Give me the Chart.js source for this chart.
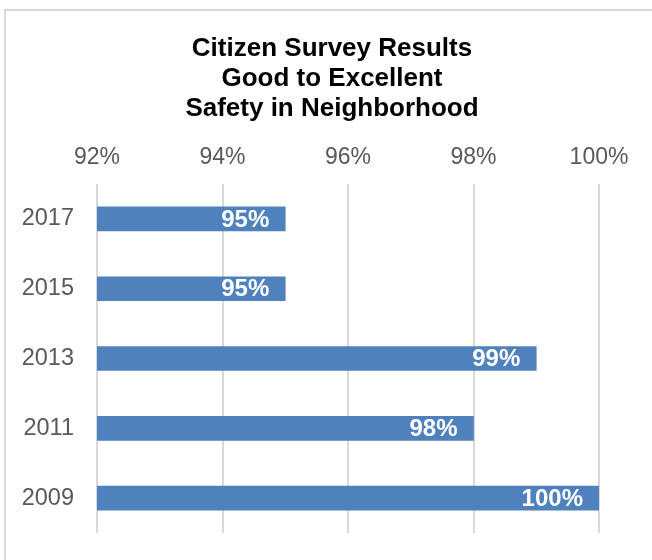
<!DOCTYPE html>
<html>
<head>
<meta charset="utf-8">
<script src="https://cdn.jsdelivr.net/npm/chart.js@4/dist/chart.umd.min.js"></script>
<style>
  html, body { margin: 0; padding: 0; background: #ffffff; }
  #wrap { position: relative; width: 652px; height: 560px; overflow: hidden; }
  #frame { position: absolute; left: 4px; top: 9px; width: 800px; height: 800px;
           border-left: 2px solid #d9d9d9; border-top: 2px solid #d9d9d9; box-sizing: border-box; pointer-events: none; }
  canvas { position: absolute; left: 0; top: 0; }
</style>
</head>
<body>
<div id="wrap">
  <canvas id="c" width="652" height="560"></canvas>
  <div id="frame"></div>
</div>
<script>
const titleLines = ['Citizen Survey Results', 'Good to Excellent', 'Safety in Neighborhood'];
const years = ['2017', '2015', '2013', '2011', '2009'];
const percentValues = [95, 95, 99, 98, 100];
const axisMin = 92;
const axisMax = 100;
const axisStep = 2;

const FONT = '"Liberation Sans", Arial, sans-serif';

const barLabels = {
  id: 'barLabels',
  afterLayout(chart) {
    const t = chart.titleBlock;
    if (t) { t.left = 65; t.right = 599; t.width = t.right - t.left; }
  },
  afterDatasetsDraw(chart) {
    const ctx = chart.ctx;
    const meta = chart.getDatasetMeta(0);
    ctx.save();
    ctx.font = 'bold 24px ' + FONT;
    ctx.fillStyle = '#ffffff';
    ctx.textAlign = 'right';
    ctx.textBaseline = 'middle';
    meta.data.forEach((bar, i) => {
      ctx.fillText(percentValues[i] + '%', bar.x - 16, bar.y + 1);
    });
    ctx.restore();
  }
};

new Chart(document.getElementById('c'), {
  type: 'bar',
  data: {
    labels: years,
    datasets: [{
      data: percentValues,
      backgroundColor: '#4f81bd',
      borderWidth: 0,
      barThickness: 24
    }]
  },
  options: {
    indexAxis: 'y',
    responsive: false,
    animation: false,
    devicePixelRatio: 1,
    layout: { padding: { top: 0, left: 0, right: 53, bottom: 27 } },
    plugins: {
      legend: { display: false },
      tooltip: { enabled: false },
      title: {
        display: true,
        text: titleLines,
        color: '#000000',
        font: { family: FONT, size: 26, weight: 'bold', lineHeight: 1.154 },
        padding: { top: 34, bottom: 0 }
      }
    },
    scales: {
      x: {
        position: 'top',
        min: axisMin,
        max: axisMax,
        ticks: {
          stepSize: axisStep,
          padding: 13,
          color: '#595959',
          font: { family: FONT, size: 23 },
          callback: v => v + '%'
        },
        grid: { color: '#d9d9d9', lineWidth: 2, drawTicks: false },
        border: { display: false },
        afterFit: s => { s.height = 184 - (34 + 3 * 30); }
      },
      y: {
        ticks: {
          padding: 23,
          color: '#595959',
          font: { family: FONT, size: 23.5 }
        },
        grid: { display: false, drawTicks: false },
        border: { display: false },
        afterFit: s => { s.width = 97; s.paddingTop = 0; s.paddingBottom = 0; }
      }
    }
  },
  plugins: [barLabels]
});
</script>
</body>
</html>
